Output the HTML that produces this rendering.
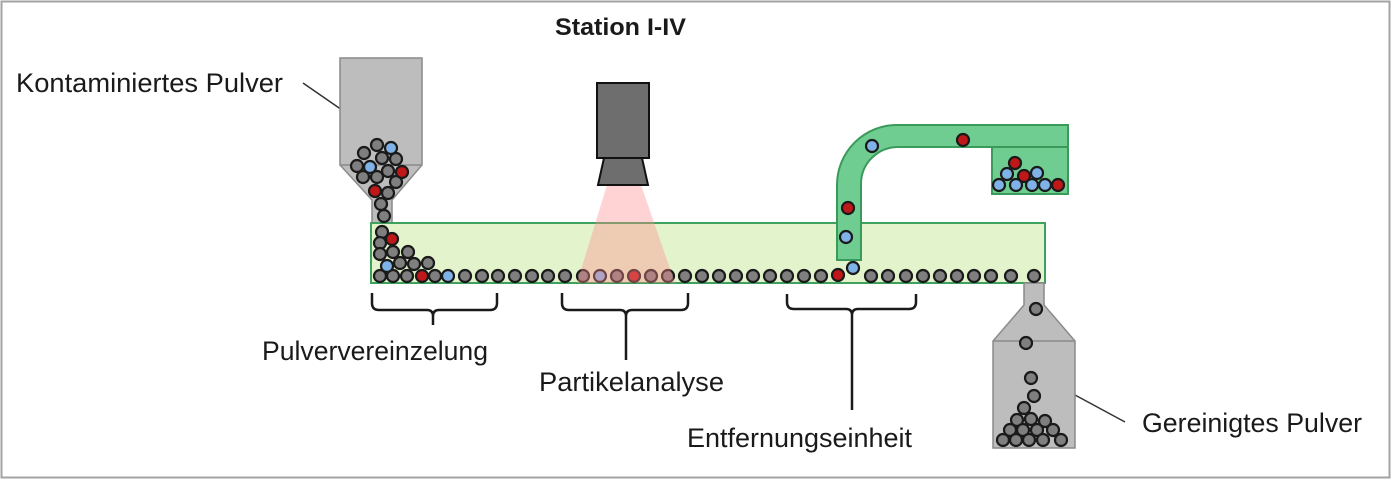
<!DOCTYPE html>
<html><head><meta charset="utf-8"><style>
html,body{margin:0;padding:0;background:#fff;}
svg{display:block;}
text{font-family:"Liberation Sans",sans-serif;fill:#1a1a1a;}
</style></head><body>
<svg width="1392" height="481" viewBox="0 0 1392 481" xmlns="http://www.w3.org/2000/svg">
<rect x="1.5" y="1.5" width="1388" height="476" fill="#fff" stroke="#a3a3a3" stroke-width="2"/>

<!-- labels -->
<text x="555" y="35" font-size="24" font-weight="bold" textLength="131" lengthAdjust="spacingAndGlyphs">Station I-IV</text>
<text x="16" y="92" font-size="27" textLength="267" lengthAdjust="spacingAndGlyphs">Kontaminiertes Pulver</text>
<text x="262" y="360" font-size="27" textLength="226" lengthAdjust="spacingAndGlyphs">Pulververeinzelung</text>
<text x="539" y="391" font-size="27" textLength="185" lengthAdjust="spacingAndGlyphs">Partikelanalyse</text>
<text x="687" y="447" font-size="27" textLength="225" lengthAdjust="spacingAndGlyphs">Entfernungseinheit</text>
<text x="1142" y="432" font-size="27" textLength="220" lengthAdjust="spacingAndGlyphs">Gereinigtes Pulver</text>

<!-- leader lines -->
<line x1="303" y1="83" x2="342" y2="110" stroke="#333" stroke-width="1.5"/>
<line x1="1075" y1="395" x2="1125" y2="422" stroke="#333" stroke-width="1.5"/>

<!-- hopper -->
<path d="M340,58 H422 V165 L392,200 V223 H372 V200 L340,165 Z" fill="#bdbdbd" stroke="#8a8a8a" stroke-width="1.5"/>
<line x1="340" y1="165" x2="422" y2="165" stroke="#8a8a8a" stroke-width="1.5"/>

<!-- conveyor -->
<rect x="371" y="223" width="674" height="60" fill="#e3f4cc" stroke="#3ea25e" stroke-width="2"/>

<!-- bottom container -->
<path d="M1024,283 H1044 V305 L1075,341 V448 H993 V341 L1024,305 Z" fill="#bdbdbd" stroke="#8a8a8a" stroke-width="1.5"/>
<line x1="993" y1="341" x2="1075" y2="341" stroke="#8a8a8a" stroke-width="1.5"/>

<!-- removal tube -->
<path d="M837,260 V185 A60,60 0 0 1 897,125 H1068 V147 H898 A37,37 0 0 0 861,184 V260 Z" fill="#6fcd91" stroke="#3a9a5a" stroke-width="2"/>
<rect x="992" y="147" width="76" height="47" fill="#6fcd91" stroke="#3a9a5a" stroke-width="2"/>

<!-- particles -->
<g stroke="#1a1a1a" stroke-width="2.2">
<g fill="#7f7f7f">
<!-- hopper -->
<circle cx="377" cy="145" r="6"/><circle cx="364" cy="153" r="6"/><circle cx="382" cy="158" r="6"/>
<circle cx="396" cy="159" r="6"/><circle cx="357" cy="166" r="6"/><circle cx="388" cy="171" r="6"/>
<circle cx="363" cy="177" r="6"/><circle cx="377" cy="177" r="6"/><circle cx="396" cy="182" r="6"/>
<circle cx="388" cy="193" r="6"/><circle cx="381" cy="204" r="6"/><circle cx="384" cy="216" r="6"/>
<!-- pile -->
<circle cx="382" cy="232" r="6"/><circle cx="380" cy="243" r="6"/><circle cx="380" cy="254" r="6"/>
<circle cx="393" cy="252" r="6"/><circle cx="408" cy="252" r="6"/><circle cx="400" cy="263" r="6"/>
<circle cx="414" cy="264" r="6"/><circle cx="428" cy="263" r="6"/>
<!-- bottom row -->
<circle cx="380" cy="276" r="6"/><circle cx="393" cy="276" r="6"/><circle cx="407" cy="276" r="6"/>
<circle cx="435" cy="276" r="6"/><circle cx="465" cy="276" r="6"/><circle cx="482" cy="276" r="6"/>
<circle cx="498" cy="276" r="6"/><circle cx="515" cy="276" r="6"/><circle cx="532" cy="276" r="6"/>
<circle cx="548" cy="276" r="6"/><circle cx="565" cy="276" r="6"/><circle cx="583" cy="276" r="6"/>
<circle cx="617" cy="276" r="6"/><circle cx="651" cy="276" r="6"/><circle cx="668" cy="276" r="6"/>
<circle cx="685" cy="276" r="6"/><circle cx="702" cy="276" r="6"/><circle cx="719" cy="276" r="6"/>
<circle cx="736" cy="276" r="6"/><circle cx="753" cy="276" r="6"/><circle cx="770" cy="276" r="6"/>
<circle cx="787" cy="276" r="6"/><circle cx="804" cy="276" r="6"/><circle cx="821" cy="276" r="6"/>
<circle cx="871" cy="276" r="6"/><circle cx="888" cy="276" r="6"/><circle cx="906" cy="276" r="6"/>
<circle cx="923" cy="276" r="6"/><circle cx="940" cy="276" r="6"/><circle cx="957" cy="276" r="6"/>
<circle cx="974" cy="276" r="6"/><circle cx="991" cy="276" r="6"/><circle cx="1011" cy="276" r="6"/>
<circle cx="1034" cy="276" r="6"/>
<!-- bottom container -->
<circle cx="1036" cy="309" r="6"/><circle cx="1026" cy="343" r="6"/><circle cx="1031" cy="378" r="6"/>
<circle cx="1034" cy="396" r="6"/><circle cx="1024" cy="408" r="6"/>
<circle cx="1017" cy="420" r="6"/><circle cx="1031" cy="419" r="6"/><circle cx="1045" cy="421" r="6"/>
<circle cx="1010" cy="430" r="6"/><circle cx="1023" cy="430" r="6"/><circle cx="1037" cy="430" r="6"/><circle cx="1053" cy="430" r="6"/>
<circle cx="1003" cy="440" r="6"/><circle cx="1016" cy="440" r="6"/><circle cx="1029" cy="440" r="6"/><circle cx="1043" cy="440" r="6"/><circle cx="1061" cy="440" r="6"/>
</g>
<g fill="#c01818">
<circle cx="402" cy="172" r="6"/><circle cx="375" cy="191" r="6"/><circle cx="392" cy="239" r="6"/>
<circle cx="422" cy="276" r="6"/><circle cx="634" cy="276" r="6"/><circle cx="838" cy="275" r="6"/>
<circle cx="848" cy="208" r="6"/><circle cx="963" cy="140" r="6"/>
<circle cx="1015" cy="163" r="6"/><circle cx="1024" cy="176" r="6"/><circle cx="1058" cy="185" r="6"/>
</g>
<g fill="#7fb2e6">
<circle cx="391" cy="148" r="6"/><circle cx="370" cy="167" r="6"/><circle cx="387" cy="266" r="6"/>
<circle cx="448" cy="276" r="6"/><circle cx="600" cy="276" r="6"/><circle cx="853" cy="268" r="6"/>
<circle cx="846" cy="237" r="6"/><circle cx="872" cy="146" r="6"/>
<circle cx="1007" cy="174" r="6"/><circle cx="1037" cy="173" r="6"/>
<circle cx="999" cy="185" r="6"/><circle cx="1016" cy="185" r="6"/><circle cx="1032" cy="185" r="6"/><circle cx="1045" cy="185" r="6"/>
</g>
</g>

<!-- camera cone -->
<polygon points="607,185 641,185 675,283 577,283" fill="rgba(255,140,140,0.38)"/>
<!-- camera -->
<rect x="597" y="83" width="52" height="75" fill="#6e6e6e" stroke="#111" stroke-width="2"/>
<polygon points="604,158 642,158 648,185 598,185" fill="#6e6e6e" stroke="#111" stroke-width="2"/>

<!-- brackets -->
<g fill="none" stroke="#1a1a1a" stroke-width="2.5">
<path d="M372,293 V303 Q372,310 379,310 H427 Q433,310 433,316 V325 M433,316 Q433,310 439,310 H490 Q497,310 497,303 V293"/>
<path d="M562,293 V303 Q562,310 569,310 H620 Q626,310 626,316 V360 M626,316 Q626,310 632,310 H681 Q688,310 688,303 V293"/>
<path d="M787,294 V302 Q787,309 794,309 H846 Q852,309 852,315 V410 M852,315 Q852,309 858,309 H909 Q916,309 916,302 V294"/>
</g>
</svg>
</body></html>
